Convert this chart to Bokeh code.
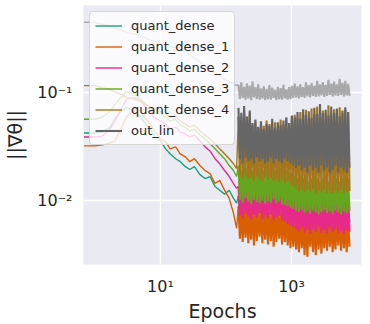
import numpy as np
from bokeh.plotting import figure
from bokeh.models import Range1d, FixedTicker, CustomJSTickFormatter
from bokeh.embed import file_html
from bokeh.resources import INLINE

# ---------------- data ----------------
X_TICKS = [10, 1000]
Y_TICKS = [0.01, 0.1]

# early epochs (sparse part of the curves)
epochs_early = [0.68, 1, 1.3, 1.7, 2, 2.5, 3, 4, 5, 6, 7, 8, 10, 12, 14, 17, 20, 24, 28,
                33, 40, 48, 57, 68, 80, 95, 112, 130, 145]
# dense part of the run: epochs 155 .. 7680 (log-spaced samples)
dense_start, dense_end = 155, 7680

quant_dense_early = [0.0421, 0.0421, 0.043, 0.0477, 0.0565, 0.0669, 0.0729, 0.0669, 0.0589, 0.0508,
                     0.0458, 0.0395, 0.0355, 0.030, 0.027, 0.0243, 0.0228, 0.0205, 0.0193, 0.0205,
                     0.0173, 0.0159, 0.0166, 0.0134, 0.0124, 0.0114, 0.0124, 0.0104, 0.0094]
quant_dense_late = [0.0110, 0.0080, 0.0106, 0.0078, 0.0112, 0.0082, 0.0105, 0.0079, 0.0109, 0.0081,
                    0.0104, 0.0077, 0.0111, 0.0080, 0.0107, 0.0078, 0.0110, 0.0082, 0.0105, 0.0079,
                    0.0108, 0.0080, 0.0104, 0.0078, 0.0109, 0.0081, 0.0106, 0.0079, 0.0110, 0.0080,
                    0.0103, 0.0076, 0.0100, 0.0072, 0.0096, 0.0070, 0.0092, 0.0068, 0.0090, 0.0066,
                    0.0086, 0.0062, 0.0083, 0.0060, 0.0087, 0.0063, 0.0082, 0.0061, 0.0085, 0.0062,
                    0.0081, 0.0060, 0.0086, 0.0063, 0.0083, 0.0061, 0.0085, 0.0062, 0.0082, 0.0060,
                    0.0086, 0.0063, 0.0083, 0.0061, 0.0085, 0.0062, 0.0082, 0.0060, 0.0084, 0.0061,
                    0.0083, 0.0062, 0.0085, 0.0060, 0.0082, 0.0061, 0.0086, 0.0063, 0.0083, 0.0062]

quant_dense_1_early = [0.032, 0.032, 0.0327, 0.034, 0.0355, 0.0458, 0.0589, 0.0698, 0.0669, 0.0565,
                       0.0508, 0.0439, 0.0371, 0.0348, 0.030, 0.0313, 0.027, 0.0253, 0.0228, 0.0243,
                       0.021, 0.0189, 0.0177, 0.0143, 0.0153, 0.0124, 0.0104, 0.0076, 0.0055]
quant_dense_1_late = [0.0088, 0.0044, 0.0082, 0.0041, 0.0090, 0.0045, 0.0085, 0.0040, 0.0079, 0.0043,
                      0.0087, 0.0038, 0.0083, 0.0042, 0.0080, 0.0046, 0.0086, 0.0040, 0.0081, 0.0043,
                      0.0084, 0.0039, 0.0078, 0.0042, 0.0085, 0.0037, 0.0080, 0.0041, 0.0083, 0.0044,
                      0.0077, 0.0039, 0.0079, 0.0041, 0.0075, 0.0038, 0.0072, 0.0036, 0.0070, 0.0037,
                      0.0068, 0.0035, 0.0065, 0.0033, 0.0069, 0.0036, 0.0064, 0.0031, 0.0067, 0.0030,
                      0.0063, 0.0037, 0.0066, 0.0033, 0.0062, 0.0031, 0.0068, 0.0035, 0.0064, 0.0032,
                      0.0067, 0.0036, 0.0063, 0.0034, 0.0069, 0.0037, 0.0065, 0.0033, 0.0062, 0.0035,
                      0.0066, 0.0038, 0.0064, 0.0034, 0.0068, 0.0036, 0.0063, 0.0033, 0.0066, 0.0037]

quant_dense_2_early = [0.0387, 0.0387, 0.0395, 0.0458, 0.0542, 0.0698, 0.0863, 0.090, 0.0827, 0.0729,
                       0.0669, 0.0589, 0.0542, 0.0508, 0.0458, 0.0477, 0.043, 0.0412, 0.0387, 0.0403,
                       0.0355, 0.0313, 0.0287, 0.0243, 0.0218, 0.0189, 0.0166, 0.0143, 0.0129]
quant_dense_2_late = [0.0135, 0.0072, 0.0128, 0.0068, 0.0140, 0.0075, 0.0131, 0.0070, 0.0126, 0.0066,
                      0.0137, 0.0073, 0.0129, 0.0069, 0.0133, 0.0076, 0.0125, 0.0067, 0.0138, 0.0071,
                      0.0130, 0.0068, 0.0127, 0.0074, 0.0134, 0.0066, 0.0128, 0.0070, 0.0132, 0.0072,
                      0.0124, 0.0065, 0.0121, 0.0063, 0.0118, 0.0060, 0.0112, 0.0058, 0.0108, 0.0056,
                      0.0104, 0.0054, 0.0100, 0.0051, 0.0106, 0.0055, 0.0098, 0.0050, 0.0103, 0.0053,
                      0.0097, 0.0049, 0.0105, 0.0054, 0.0099, 0.0051, 0.0102, 0.0056, 0.0096, 0.0050,
                      0.0101, 0.0053, 0.0098, 0.0049, 0.0104, 0.0055, 0.0097, 0.0051, 0.0103, 0.0054,
                      0.0099, 0.0050, 0.0100, 0.0052, 0.0096, 0.0049, 0.0102, 0.0053, 0.0098, 0.0051]

quant_dense_3_early = [0.0565, 0.0565, 0.0589, 0.0669, 0.0776, 0.090, 0.102, 0.0959, 0.0863, 0.0776,
                       0.0729, 0.0669, 0.0629, 0.0589, 0.0542, 0.0565, 0.0498, 0.0477, 0.0439, 0.0458,
                       0.0403, 0.0371, 0.0334, 0.030, 0.027, 0.0243, 0.021, 0.0189, 0.0166]
quant_dense_3_late = [0.021, 0.0100, 0.019, 0.0095, 0.023, 0.0104, 0.020, 0.0097, 0.022, 0.0092,
                      0.019, 0.0101, 0.021, 0.0096, 0.020, 0.0094, 0.022, 0.0099, 0.019, 0.0093,
                      0.021, 0.0098, 0.020, 0.0095, 0.022, 0.0102, 0.019, 0.0094, 0.021, 0.0097,
                      0.020, 0.0092, 0.020, 0.0090, 0.019, 0.0088, 0.018, 0.0085, 0.018, 0.0083,
                      0.017, 0.0080, 0.016, 0.0078, 0.017, 0.0081, 0.016, 0.0076, 0.017, 0.0079,
                      0.015, 0.0075, 0.016, 0.0080, 0.017, 0.0077, 0.016, 0.0074, 0.015, 0.0078,
                      0.016, 0.0081, 0.017, 0.0076, 0.015, 0.0079, 0.016, 0.0075, 0.017, 0.0080,
                      0.016, 0.0077, 0.015, 0.0074, 0.016, 0.0079, 0.017, 0.0076, 0.016, 0.0080]

quant_dense_4_early = [0.1159, 0.1159, 0.1111, 0.1066, 0.1021, 0.0959, 0.090, 0.0863, 0.0827, 0.0776,
                       0.0729, 0.0698, 0.0669, 0.0629, 0.0589, 0.0615, 0.0542, 0.0508, 0.0477, 0.0498,
                       0.0439, 0.0403, 0.0371, 0.0334, 0.030, 0.027, 0.0243, 0.0218, 0.0197]
quant_dense_4_late = [0.060, 0.0165, 0.055, 0.0158, 0.068, 0.0170, 0.058, 0.0155, 0.064, 0.0162,
                      0.050, 0.0152, 0.054, 0.0166, 0.047, 0.0157, 0.052, 0.0150, 0.049, 0.0163,
                      0.055, 0.0154, 0.051, 0.0160, 0.046, 0.0151, 0.053, 0.0158, 0.048, 0.0148,
                      0.056, 0.0155, 0.050, 0.0145, 0.059, 0.0150, 0.052, 0.0140, 0.060, 0.0135,
                      0.062, 0.0128, 0.058, 0.0122, 0.066, 0.0126, 0.061, 0.0118, 0.069, 0.0124,
                      0.057, 0.0120, 0.071, 0.0128, 0.063, 0.0116, 0.074, 0.0123, 0.060, 0.0119,
                      0.068, 0.0125, 0.065, 0.0117, 0.076, 0.0122, 0.062, 0.0115, 0.070, 0.0121,
                      0.067, 0.0118, 0.073, 0.0124, 0.064, 0.0116, 0.070, 0.0120, 0.066, 0.0122]

light_run_early = [0.448, 0.448, 0.4295, 0.4118, 0.3948, 0.3784, 0.3628, 0.3478, 0.3334, 0.3196,
                   0.3064, 0.300, 0.2875, 0.2757, 0.2699, 0.2587, 0.2642, 0.248, 0.2231, 0.2095,
                   0.1925, 0.1769, 0.1626, 0.1494, 0.1432, 0.1316, 0.1262, 0.1209, 0.1159]
light_run_late = [0.118, 0.087, 0.124, 0.089, 0.113, 0.086, 0.121, 0.088, 0.116, 0.085,
                  0.127, 0.090, 0.112, 0.087, 0.119, 0.086, 0.109, 0.088, 0.114, 0.085,
                  0.108, 0.087, 0.117, 0.086, 0.111, 0.089, 0.106, 0.085, 0.113, 0.087,
                  0.110, 0.086, 0.118, 0.088, 0.107, 0.086, 0.112, 0.087, 0.115, 0.089,
                  0.121, 0.090, 0.114, 0.088, 0.119, 0.091, 0.112, 0.089, 0.124, 0.092,
                  0.117, 0.090, 0.122, 0.093, 0.115, 0.091, 0.128, 0.092, 0.119, 0.094,
                  0.125, 0.091, 0.118, 0.093, 0.131, 0.095, 0.121, 0.092, 0.126, 0.094,
                  0.119, 0.093, 0.134, 0.095, 0.123, 0.092, 0.128, 0.094, 0.120, 0.093]

out_lin_late = [0.072, 0.024, 0.065, 0.022, 0.075, 0.025, 0.060, 0.023, 0.068, 0.024,
                0.052, 0.022, 0.056, 0.025, 0.048, 0.023, 0.054, 0.024, 0.046, 0.022,
                0.051, 0.023, 0.049, 0.025, 0.057, 0.022, 0.047, 0.024, 0.053, 0.023,
                0.050, 0.022, 0.055, 0.024, 0.058, 0.023, 0.052, 0.022, 0.061, 0.021,
                0.059, 0.020, 0.066, 0.021, 0.057, 0.019, 0.070, 0.020, 0.062, 0.018,
                0.067, 0.021, 0.058, 0.019, 0.072, 0.020, 0.063, 0.018, 0.078, 0.021,
                0.064, 0.019, 0.069, 0.020, 0.061, 0.018, 0.074, 0.019, 0.065, 0.021,
                0.071, 0.018, 0.060, 0.020, 0.068, 0.019, 0.073, 0.018, 0.066, 0.020]

labels = ["quant_dense", "quant_dense_1", "quant_dense_2", "quant_dense_3", "quant_dense_4", "out_lin"]
colors = ["#1b9e77", "#d95f02", "#e7298a", "#66a61e", "#a6761d", "#666666"]
light_color = "#a9a9ac"

# ---------------- figure ----------------
p = figure(width=370, height=324, x_axis_type="log", y_axis_type="log",
           x_range=Range1d(0.6676, 11700), y_range=Range1d(0.002535, 0.6417),
           output_backend="svg", toolbar_location=None,
           min_border_left=83, min_border_right=9, min_border_top=5, min_border_bottom=57)
p.background_fill_color = "#eaeaf2"
p.border_fill_color = "white"
p.outline_line_color = None


def dense_x(vals):
    return list(np.geomspace(dense_start, dense_end, len(vals)))


EARLY_W, DENSE_W = 1.4, 2.1

series = [
    (quant_dense_early, quant_dense_late),
    (quant_dense_1_early, quant_dense_1_late),
    (quant_dense_2_early, quant_dense_2_late),
    (quant_dense_3_early, quant_dense_3_late),
    (quant_dense_4_early, quant_dense_4_late),
]
for (early, late), lab, col in zip(series, labels[:5], colors[:5]):
    xe = list(epochs_early) + [dense_start]
    ye = list(early) + [late[0]]
    p.line(xe, ye, line_color=col, line_width=EARLY_W, legend_label=lab)
    p.line(dense_x(late), late, line_color=col, line_width=DENSE_W)

p.line(list(epochs_early) + [dense_start], list(light_run_early) + [light_run_late[0]],
       line_color=light_color, line_width=EARLY_W)
p.line(dense_x(light_run_late), light_run_late, line_color=light_color, line_width=DENSE_W)
p.line(dense_x(out_lin_late), out_lin_late, line_color=colors[5], line_width=DENSE_W,
       legend_label=labels[5])

# ---------------- axes ----------------
fmt = CustomJSTickFormatter(code="""
const e = Math.round(Math.log10(tick));
const sup = {'-':'\u207b','0':'\u2070','1':'\u00b9','2':'\u00b2','3':'\u00b3','4':'\u2074',
             '5':'\u2075','6':'\u2076','7':'\u2077','8':'\u2078','9':'\u2079'};
return '10' + String(e).split('').map(c => sup[c]).join('');
""")
p.xaxis.ticker = FixedTicker(ticks=X_TICKS, minor_ticks=[])
p.yaxis.ticker = FixedTicker(ticks=Y_TICKS, minor_ticks=[])
for ax in (p.xaxis[0], p.yaxis[0]):
    ax.formatter = fmt
    ax.axis_line_color = None
    ax.major_tick_line_color = None
    ax.minor_tick_line_color = None
    ax.major_tick_out = 0
    ax.major_tick_in = 0
    ax.major_label_text_font = "DejaVu Sans"
    ax.major_label_text_font_size = "16px"
    ax.major_label_text_color = "#262626"
    ax.axis_label_text_font = "DejaVu Sans"
    ax.axis_label_text_font_size = "19px"
    ax.axis_label_text_font_style = "normal"
    ax.axis_label_text_color = "#262626"

p.xaxis.axis_label = "Epochs"
p.yaxis.axis_label = "||\u2207\u03b8||"
p.xaxis.major_label_standoff = 12
p.xaxis.axis_label_standoff = 1
p.yaxis.major_label_standoff = 11
p.yaxis.axis_label_standoff = 8

p.grid.grid_line_color = "white"
p.grid.grid_line_width = 1.3

# ---------------- legend ----------------
lg = p.legend[0]
lg.location = "top_left"
lg.margin = 6
lg.padding = 5
lg.spacing = 4
lg.label_height = 17
lg.glyph_height = 17
lg.glyph_width = 27
lg.label_standoff = 9
lg.label_text_font = "DejaVu Sans"
lg.label_text_font_size = "13px"
lg.label_text_color = "#262626"
lg.background_fill_color = "white"
lg.background_fill_alpha = 0.8
lg.border_line_color = "#cccccc"
lg.border_line_alpha = 0.8
if "border_radius" in lg.properties():
    lg.border_radius = 4

open("out.html", "w").write(file_html(p, INLINE))
